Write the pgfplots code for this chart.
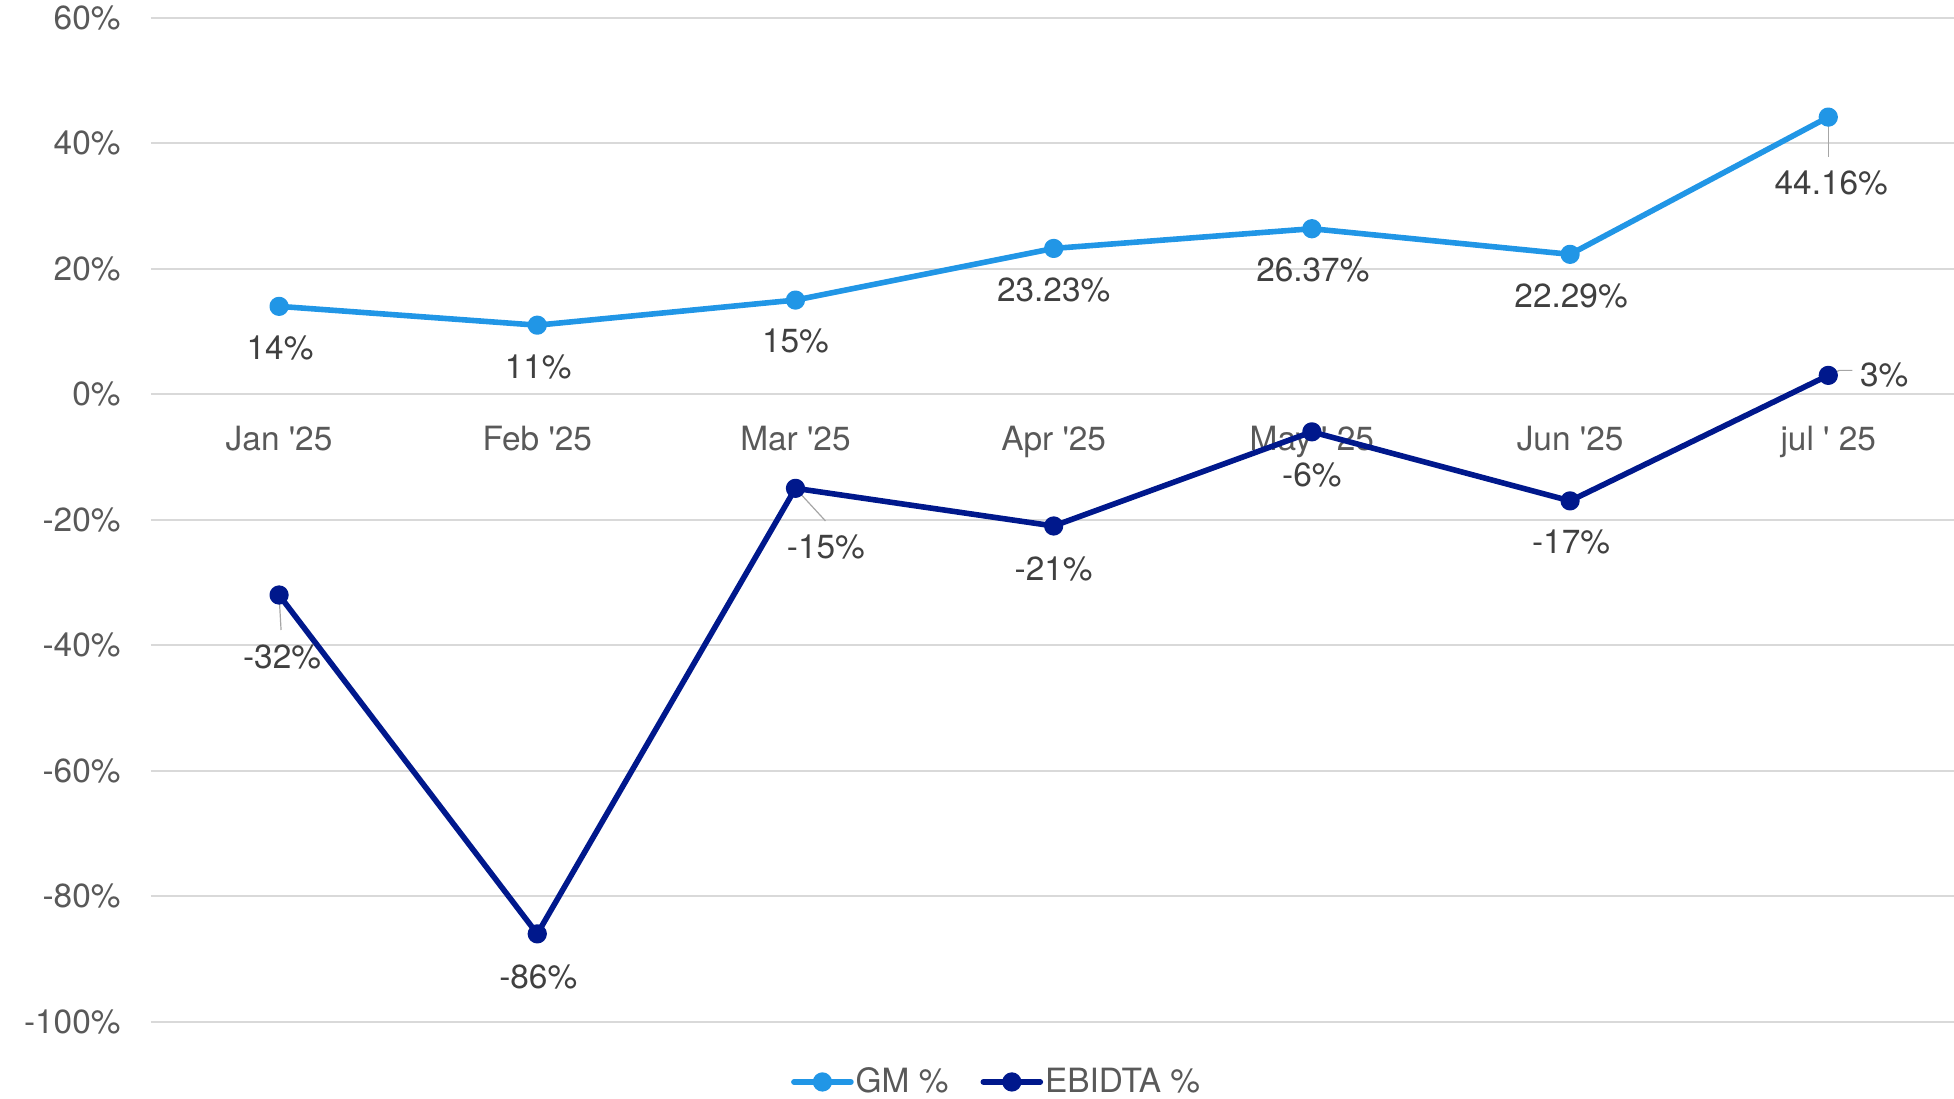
\documentclass[border=0pt]{standalone}
\usepackage{pgfplots}
\pgfplotsset{compat=1.18}
\usepackage{fontspec}
\setmainfont{TeX Gyre Heros}
\definecolor{gmblue}{HTML}{2196E6}
\definecolor{ebnavy}{HTML}{00188C}
\definecolor{gridc}{HTML}{D9D9D9}
\definecolor{tickc}{HTML}{595959}
\definecolor{labc}{HTML}{404040}
\definecolor{leadc}{HTML}{A6A6A6}
\newcommand{\fs}{\fontsize{16.7pt}{20pt}\selectfont}
\begin{document}
\begin{tikzpicture}
\begin{axis}[
  name=ax,
  scale only axis, width=901.5pt, height=502pt,
  xmin=-0.496, xmax=6.487, ymin=-100, ymax=60,
  axis x line*=middle, axis y line*=left,
  axis line style={draw=none},
  major tick length=0pt,
  xtick={0,1,2,3,4,5,6},
  xticklabels={Jan \textquotesingle25, Feb \textquotesingle25, Mar \textquotesingle25, Apr \textquotesingle25, May \textquotesingle\ 25, Jun \textquotesingle25, jul \textquotesingle\ 25},
  ytick={-100,-80,-60,-40,-20,0,20,40,60},
  yticklabels={-100\%,-80\%,-60\%,-40\%,-20\%,0\%,20\%,40\%,60\%},
  ymajorgrids, grid style={gridc, line width=1pt},
  tick label style={font=\fs, text=tickc},
  xticklabel style={yshift=-12.5pt},
  yticklabel style={xshift=-11.7pt},
  legend style={at={(0.469,-0.06)}, anchor=center, legend columns=-1, draw=none, fill=none,
    font=\fs, text=tickc, nodes={inner sep=1pt},
    /tikz/every even column/.append style={column sep=15pt}},
  legend image code/.code={\draw[mark repeat=2,mark phase=2,line cap=round,#1] plot coordinates {(0pt,0pt) (14.25pt,0pt) (28.5pt,0pt)};},
  nodes near coords={\pgfplotspointmeta\%},
  point meta=explicit symbolic,
  visualization depends on={value \thisrow{dx}\as\dx},
  visualization depends on={value \thisrow{dy}\as\dy},
  every node near coord/.append style={font=\fs, text=labc, anchor=center, xshift=\dx pt, yshift=\dy pt},
]
\addplot[gmblue, line width=2.8pt, line join=round, line cap=round, mark=*, mark size=3.4pt, mark options={solid}] table[x=x,y=y,meta=lab] {
x y lab dx dy
0 14 14 0.5 -21
1 11 11 0.5 -21
2 15 15 0 -20.5
3 23.23 23.23 0 -21
4 26.37 26.37 0.5 -20.5
5 22.29 22.29 0.5 -21
6 44.16 44.16 1.5 -33
};
\addlegendentry{GM \%}
\addplot[ebnavy, line width=2.8pt, line join=round, line cap=round, mark=*, mark size=3.4pt, mark options={solid}] table[x=x,y=y,meta=lab] {
x y lab dx dy
0 -32 -32 1.5 -31
1 -86 -86 0.5 -21.5
2 -15 -15 15.2 -29.5
3 -21 -21 0 -21.5
4 -6 -6 0 -21.5
5 -17 -17 0.5 -20.5
6 3 3 28 0
};
\addlegendentry{EBIDTA \%}
\draw[leadc, line width=0.6pt] (axis cs:0,-32) -- ([xshift=1pt,yshift=-17.5pt]axis cs:0,-32);
\draw[leadc, line width=0.6pt] (axis cs:2,-15) -- ([xshift=15pt,yshift=-16.3pt]axis cs:2,-15);
\draw[leadc, line width=0.6pt] (axis cs:6,44.16) -- ([yshift=-20pt]axis cs:6,44.16);
\draw[leadc, line width=0.6pt] (axis cs:6,3) -- ([xshift=5.5pt,yshift=2.5pt]axis cs:6,3) -- ([xshift=12pt,yshift=2.5pt]axis cs:6,3);
\end{axis}
\pgfresetboundingbox
\path ([xshift=-75.5pt,yshift=-38.5pt]ax.south west) rectangle ([yshift=8.85pt]ax.north east);
\end{tikzpicture}
\end{document}
